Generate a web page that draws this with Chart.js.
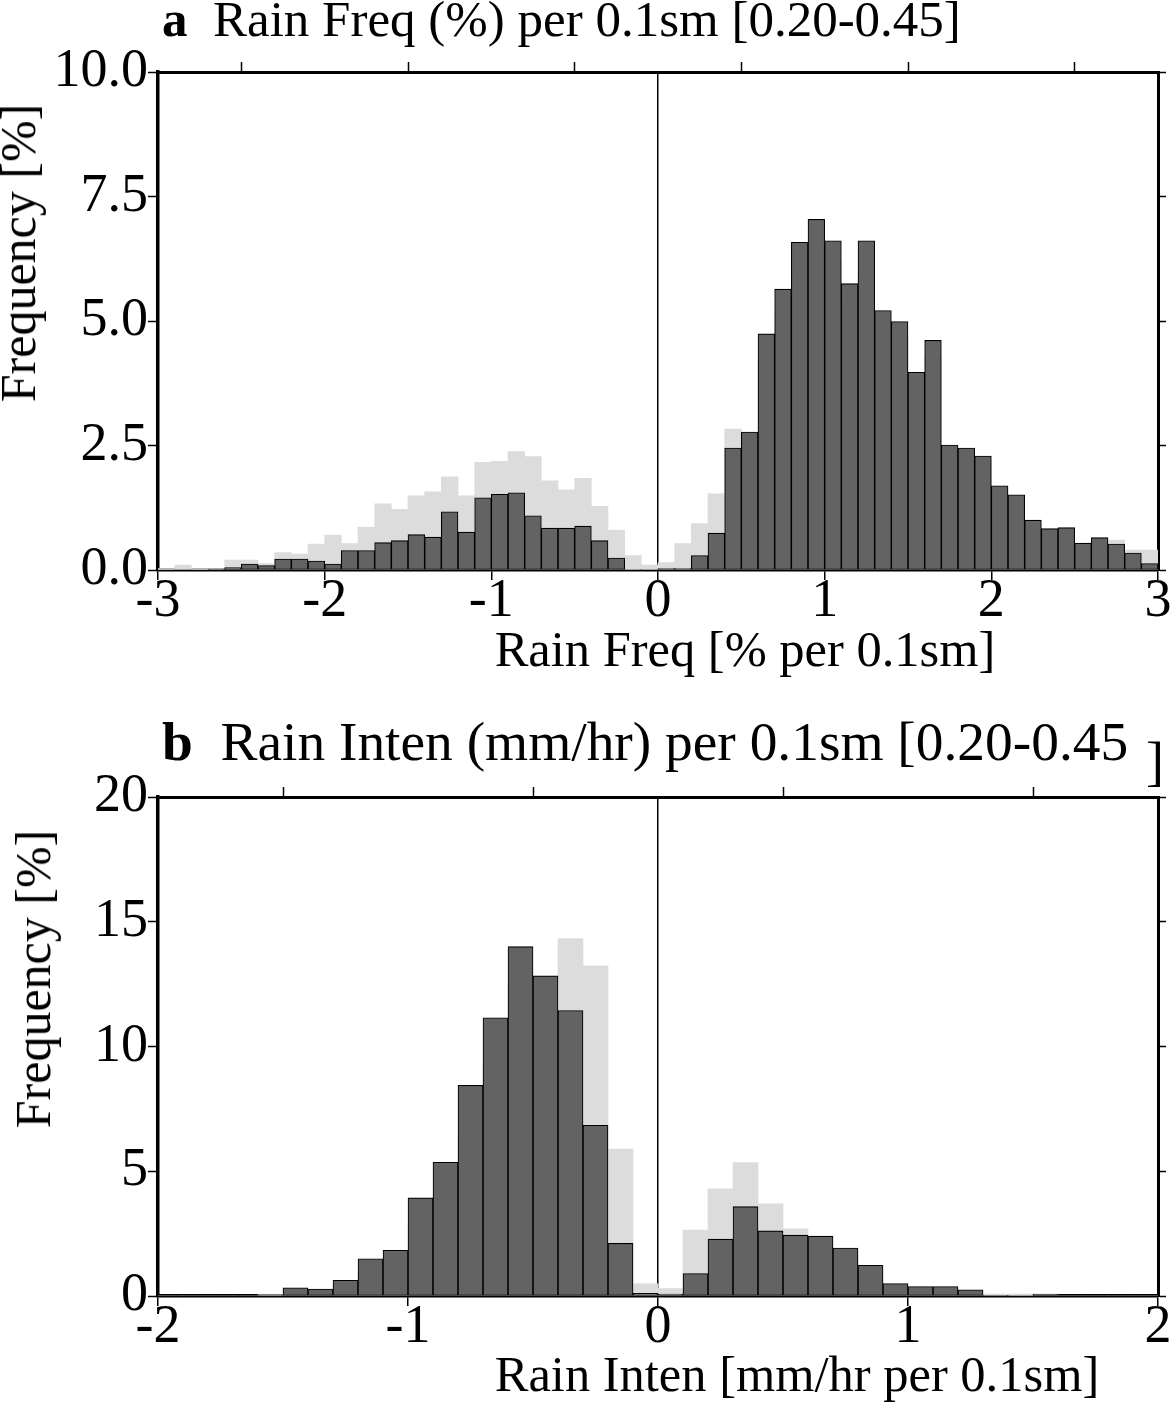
<!DOCTYPE html>
<html>
<head>
<meta charset="utf-8">
<script src="https://cdn.jsdelivr.net/npm/chart.js@4.4.1/dist/chart.umd.min.js"></script>
<style>
  html, body { margin: 0; padding: 0; background: #fff; }
  #wrap { position: relative; width: 1172px; height: 1408px; overflow: hidden; background: #fff; }
  canvas { position: absolute; left: 0; }
  .t { position: absolute; font-family: 'Liberation Serif', 'Times New Roman', serif; color: #000; white-space: nowrap; }
  .rot { position: absolute; width: 0; height: 0; }
  .rot span { position: absolute; left: 0; top: 0; transform: translate(-50%, -50%) rotate(-90deg); font-family: 'Liberation Serif', serif; font-size: 50px; line-height: 50px; white-space: nowrap; }
</style>
</head>
<body>
<div id="wrap">
  <canvas id="ca" width="1172" height="700" style="top:0px"></canvas>
  <canvas id="cb" width="1172" height="708" style="top:700px"></canvas>

  <div class="t" style="left:162px; top:-6px; font-size:51px; line-height:51px;"><b>a</b>&nbsp; Rain Freq (%) per 0.1sm [0.20-0.45]</div>
  <div class="t" style="left:162px; top:714px; font-size:55.4px; line-height:55.4px;"><b>b</b>&nbsp; Rain Inten (mm/hr) per 0.1sm [0.20-0.45</div>
  <div class="t" style="left:1146px; top:735px; font-size:54px; line-height:54px;">]</div>

  <div class="t" style="left:745px; top:624px; font-size:50.5px; line-height:50.5px; transform:translateX(-50%);">Rain Freq [% per 0.1sm]</div>
  <div class="t" style="left:797px; top:1349px; font-size:50.5px; line-height:50.5px; transform:translateX(-50%);">Rain Inten [mm/hr per 0.1sm]</div>

  <div class="rot" style="left:18px; top:253px;"><span>Frequency [%]</span></div>
  <div class="rot" style="left:33px; top:979px;"><span>Frequency [%]</span></div>
</div>
<script>
// ---- Panel a: Rain Freq (% per 0.1sm), bin centres ----
const binsA = [-2.95,-2.85,-2.75,-2.65,-2.55,-2.45,-2.35,-2.25,-2.15,-2.05,
               -1.95,-1.85,-1.75,-1.65,-1.55,-1.45,-1.35,-1.25,-1.15,-1.05,
               -0.95,-0.85,-0.75,-0.65,-0.55,-0.45,-0.35,-0.25,-0.15,-0.05,
                0.05, 0.15, 0.25, 0.35, 0.45, 0.55, 0.65, 0.75, 0.85, 0.95,
                1.05, 1.15, 1.25, 1.35, 1.45, 1.55, 1.65, 1.75, 1.85, 1.95,
                2.05, 2.15, 2.25, 2.35, 2.45, 2.55, 2.65, 2.75, 2.85, 2.95];
// dark (foreground) histogram, frequency [%]
const darkA = [0.00,0.01,0.00,0.02,0.05,0.12,0.09,0.22,0.22,0.18,
               0.12,0.39,0.39,0.55,0.59,0.71,0.66,1.17,0.76,1.45,
               1.52,1.55,1.09,0.84,0.84,0.88,0.59,0.24,0.01,0.01,
               0.03,0.03,0.29,0.74,2.45,2.77,4.74,5.64,6.58,7.04,
               6.61,5.75,6.61,5.21,4.99,3.97,4.61,2.51,2.45,2.29,
               1.69,1.51,1.00,0.83,0.85,0.54,0.65,0.52,0.34,0.13];
// light (background) histogram, frequency [%]
const lightA = [0.03,0.10,0.03,0.03,0.20,0.20,0.13,0.35,0.32,0.52,
                0.70,0.53,0.86,1.33,1.22,1.49,1.57,1.87,1.49,2.16,
                2.18,2.38,2.28,1.79,1.61,1.84,1.28,0.80,0.29,0.10,
                0.15,0.53,0.93,1.53,2.83,2.60,4.30,5.20,6.00,6.50,
                6.20,5.40,6.00,4.90,4.70,3.80,4.30,2.40,2.30,2.20,
                1.60,1.45,0.95,0.80,0.80,0.50,0.62,0.60,0.40,0.40];
const xTicksA = [-3,-2,-1,0,1,2,3];
const yTicksA = [0, 2.5, 5, 7.5, 10];

// ---- Panel b: Rain Inten (mm/hr per 0.1sm), bin centres ----
const binsB = [-1.95,-1.85,-1.75,-1.65,-1.55,-1.45,-1.35,-1.25,-1.15,-1.05,
               -0.95,-0.85,-0.75,-0.65,-0.55,-0.45,-0.35,-0.25,-0.15,-0.05,
                0.05, 0.15, 0.25, 0.35, 0.45, 0.55, 0.65, 0.75, 0.85, 0.95,
                1.05, 1.15, 1.25, 1.35, 1.45, 1.55, 1.65, 1.75, 1.85, 1.95];
const darkB = [0.00,0.00,0.00,0.00,0.03,0.33,0.28,0.63,1.49,1.83,
               3.93,5.36,8.44,11.15,14.00,12.83,11.44,6.84,2.11,0.11,
               0.08,0.90,2.28,3.58,2.61,2.44,2.40,1.92,1.23,0.50,
               0.38,0.38,0.25,0.03,0.02,0.08,0.00,0.00,0.00,0.00];
const lightB = [0.00,0.00,0.00,0.00,0.05,0.20,0.20,0.40,1.00,1.30,
                2.80,4.00,6.50,9.50,12.50,12.60,14.33,13.23,5.89,0.49,
                0.30,2.64,4.30,5.35,3.69,2.69,2.20,1.70,1.10,0.45,
                0.35,0.30,0.20,0.08,0.08,0.06,0.00,0.00,0.00,0.00];
const xTicksB = [-2,-1,0,1,2];
const yTicksB = [0, 5, 10, 15, 20];

const FONT = { family: "'Liberation Serif', 'Times New Roman', serif", size: 54 };
const DARK = '#636363', LIGHT = '#dcdcdc';

function makePanel(id, bins, dark, light, xTicks, yTicks, yFmt, topH, bottomH) {
  const xr = [xTicks[0], xTicks[xTicks.length - 1]];
  const yr = [yTicks[0], yTicks[yTicks.length - 1]];
  const fixX = (ticksArr) => (scale) => { scale.ticks = ticksArr.map(v => ({ value: v })); };
  new Chart(document.getElementById(id), {
    type: 'bar',
    data: {
      datasets: [
        { label: 'dark', data: bins.map((c, i) => ({ x: c, y: dark[i] })), backgroundColor: DARK,
          borderColor: '#000', borderWidth: 1.1, borderSkipped: false, order: 0, grouped: false,
          barPercentage: 1, categoryPercentage: 1 },
        { label: 'light', data: bins.map((c, i) => ({ x: c, y: light[i] })), backgroundColor: LIGHT,
          borderWidth: 0, order: 1, grouped: false, barPercentage: 1, categoryPercentage: 1 }
      ]
    },
    options: {
      responsive: false, animation: false, devicePixelRatio: 1,
      layout: { padding: 0 },
      plugins: { legend: { display: false }, tooltip: { enabled: false }, title: { display: false } },
      scales: {
        x: {
          type: 'linear', position: 'bottom', min: xr[0], max: xr[1], offset: false, z: 1,
          afterBuildTicks: fixX(xTicks),
          afterFit: s => { s.height = bottomH; },
          grid: { offset: false, drawOnChartArea: true, drawTicks: true, tickLength: 10,
                  color: c => (c.tick && c.tick.value === 0) ? '#000' : 'rgba(0,0,0,0)',
                  lineWidth: 1.5, tickColor: '#000', tickWidth: 1.5 },
          border: { display: true, color: '#000', width: 3.5 },
          ticks: { font: FONT, color: '#000', padding: -11, maxRotation: 0, autoSkip: false,
                   callback: v => String(v) }
        },
        x2: {
          type: 'linear', position: 'top', min: xr[0], max: xr[1], offset: false,
          afterBuildTicks: fixX(xTicks),
          afterFit: s => { s.height = topH; },
          grid: { drawOnChartArea: false, drawTicks: true, tickLength: 10, color: '#000', tickWidth: 1.5 },
          border: { display: true, color: '#000', width: 3 },
          ticks: { display: false }
        },
        y: {
          type: 'linear', position: 'left', min: yr[0], max: yr[1],
          afterBuildTicks: fixX(yTicks),
          afterFit: s => { s.width = 158; },
          grid: { drawOnChartArea: false, drawTicks: true, tickLength: 10, color: '#000', tickWidth: 1.5 },
          border: { display: true, color: '#000', width: 3.5 },
          ticks: { font: FONT, color: '#000', padding: 0, callback: yFmt }
        },
        y2: {
          type: 'linear', position: 'right', min: yr[0], max: yr[1],
          afterBuildTicks: fixX(yTicks),
          afterFit: s => { s.width = 14; },
          grid: { drawOnChartArea: false, drawTicks: true, tickLength: 8, color: '#000', tickWidth: 1.5 },
          border: { display: true, color: '#000', width: 3 },
          ticks: { display: false }
        }
      }
    }
  });
}

makePanel('ca', binsA, darkA, lightA, xTicksA, yTicksA, v => Number(v).toFixed(1), 72, 130);
makePanel('cb', binsB, darkB, lightB, xTicksB, yTicksB, v => String(v), 97, 112);
</script>
</body>
</html>
